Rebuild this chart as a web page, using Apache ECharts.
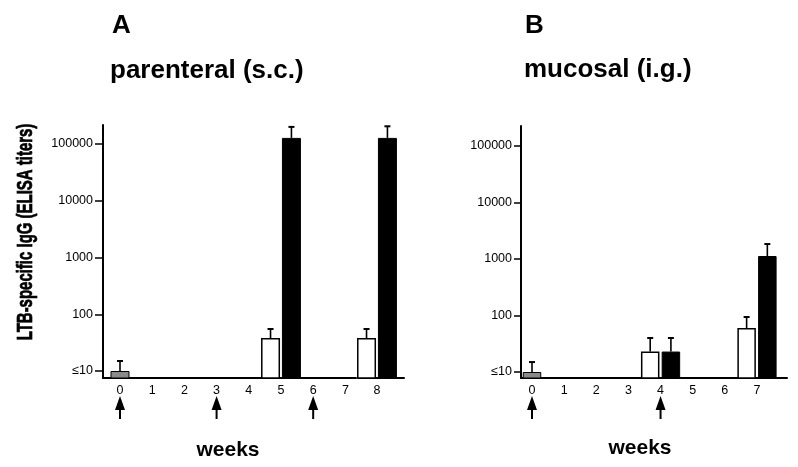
<!DOCTYPE html>
<html>
<head>
<meta charset="utf-8">
<script src="https://cdn.jsdelivr.net/npm/echarts@6/dist/echarts.min.js"></script>
<style>html,body{margin:0;padding:0;background:#fff}#c{width:798px;height:467px}</style>
</head>
<body>
<div id="c"></div>
<script>
// ---- data (titers; [week, mean titer, top of error bar]) ----
const weeksA = [0, 1, 2, 3, 4, 5, 6, 7, 8];
const weeksB = [0, 1, 2, 3, 4, 5, 6, 7];
const yTicks = [10, 100, 1000, 10000, 100000];
const preA = [[0, 10, 15]];
const whiteA = [[5, 38, 55], [8, 38, 55]];
const blackA = [[5, 128000, 200000], [8, 128000, 205000]];
const preB = [[0, 10, 15]];
const whiteB = [[4, 23, 40], [7, 60, 94]];
const blackB = [[4, 23, 40], [7, 1130, 1840]];
const boostA = [0, 3, 6];
const boostB = [0, 4];

const FONT = '"Liberation Sans", Arial, Helvetica, sans-serif';
const chart = echarts.init(document.getElementById('c'), null, {renderer: 'canvas'});

const yMinA = 7.53, yMaxA = 216000, yMinB = 7.83, yMaxB = 226000;
const bwA = 19, gapA = 0.1, bwB = 18.5, gapB = 0.12;
const offA = (bwA * (1 + gapA)) / 2, offB = (bwB * (1 + gapB)) / 2;

function yAxis(grid, min, max, show, tickLen) {
  return {
    type: 'log', logBase: 10, gridIndex: grid, min: min, max: max, show: show,
    axisLine: {show: true, onZero: false, lineStyle: {color: '#000', width: 2}},
    axisTick: {show: true, length: tickLen, customValues: yTicks, lineStyle: {color: '#000', width: 1.5}},
    axisLabel: {customValues: yTicks, margin: tickLen + 2, color: '#000', fontSize: 12.5, fontFamily: FONT,
      formatter: v => { const r = Math.round(v); return r === 10 ? '≤10' : String(r); }},
    splitLine: {show: false}
  };
}
function xAxis(grid, min, max, show, labels) {
  return {
    type: 'value', gridIndex: grid, min: min, max: max, show: show,
    axisLine: {show: true, onZero: false, lineStyle: {color: '#000', width: 2}},
    axisTick: {show: false},
    axisLabel: {customValues: labels, margin: 6, color: '#000', fontSize: 12.5, fontFamily: FONT},
    splitLine: {show: false}
  };
}
function bars(data, xi, yi, bw, gap, style) {
  return {type: 'bar', xAxisIndex: xi, yAxisIndex: yi, barWidth: bw, barGap: (gap * 100) + '%',
    data: data.map(d => [d[0], d[1]]), itemStyle: style, silent: true, clip: true, z: 2};
}
function errs(data, xi, yi, off) {
  return {
    type: 'custom', xAxisIndex: xi, yAxisIndex: yi, silent: true, z: 3, clip: false,
    data: data.map(d => [d[0], d[1], d[2]]), encode: {x: 0, y: [1, 2]},
    renderItem: (p, api) => {
      const b = api.coord([api.value(0), api.value(1)]);
      const t = api.coord([api.value(0), api.value(2)]);
      const x = b[0] + off;
      return {type: 'group', children: [
        {type: 'line', shape: {x1: x, y1: b[1], x2: x, y2: t[1]}, style: {stroke: '#000', lineWidth: 1.6}},
        {type: 'line', shape: {x1: x - 3, y1: t[1], x2: x + 3, y2: t[1]}, style: {stroke: '#000', lineWidth: 2}}
      ]};
    }
  };
}
function arrows(weeks, xi, yi, ymin) {
  return {
    type: 'custom', xAxisIndex: xi, yAxisIndex: yi, silent: true, clip: false, z: 5,
    data: weeks.map(w => [w, ymin]), encode: {x: 0, y: 1},
    renderItem: (p, api) => {
      const c = api.coord([api.value(0), api.value(1)]);
      const x = c[0], y = c[1];
      return {type: 'group', children: [
        {type: 'polygon', shape: {points: [[x, y + 18], [x - 5, y + 32], [x + 5, y + 32]]}, style: {fill: '#000'}},
        {type: 'line', shape: {x1: x, y1: y + 31, x2: x, y2: y + 41}, style: {stroke: '#000', lineWidth: 2}}
      ]};
    }
  };
}

const whiteStyle = {color: '#fff', borderColor: '#000', borderWidth: 1.5};
const blackStyle = {color: '#000', borderColor: '#000', borderWidth: 1};
const preStyle = {color: '#8a8a8a', borderColor: '#000', borderWidth: 1};

const inA1 = d => d[0] <= 7, inA2 = d => d[0] >= 8;
const titleStyle = {fontSize: 26, fontWeight: 'bold', fontFamily: FONT, color: '#000'};

const option = {
  animation: false,
  backgroundColor: '#fff',
  title: [
    {text: 'A', left: 112, top: 13, padding: 0, textStyle: titleStyle},
    {text: 'parenteral (s.c.)', left: 110, top: 58, padding: 0, textStyle: titleStyle},
    {text: 'B', left: 525, top: 13, padding: 0, textStyle: titleStyle},
    {text: 'mucosal (i.g.)', left: 524, top: 57, padding: 0, textStyle: titleStyle}
  ],
  grid: [
    {left: 103, top: 125, width: 253, height: 253, containLabel: false},
    {left: 358, top: 125, width: 46, height: 253, containLabel: false},
    {left: 521, top: 126, width: 266, height: 252, containLabel: false}
  ],
  xAxis: [
    xAxis(0, -0.528, 7.33, true, weeksA.filter(w => w <= 7)),
    xAxis(0, -0.528, 7.33, false, []),
    xAxis(1, 7.41, 8.84, true, weeksA.filter(w => w >= 8)),
    xAxis(2, -0.342, 7.934, true, weeksB),
    xAxis(2, -0.342, 7.934, false, [])
  ],
  yAxis: [
    yAxis(0, yMinA, yMaxA, true, 8),
    yAxis(1, yMinA, yMaxA, false, 8),
    yAxis(2, yMinB, yMaxB, true, 7)
  ],
  graphic: [
    {type: 'text', x: 26, y: 232, rotation: Math.PI / 2, scaleX: 0.68,
      style: {text: 'LTB-specific IgG (ELISA titers)', font: 'bold 22px ' + FONT, fill: '#000', stroke: '#000', lineWidth: 0.7, align: 'center', verticalAlign: 'middle'}},
    {type: 'text', x: 228, y: 450,
      style: {text: 'weeks', font: 'bold 21px ' + FONT, fill: '#000', align: 'center', verticalAlign: 'middle'}},
    {type: 'text', x: 640, y: 448,
      style: {text: 'weeks', font: 'bold 21px ' + FONT, fill: '#000', align: 'center', verticalAlign: 'middle'}}
  ],
  series: [
    // panel A, first segment
    bars(whiteA.filter(inA1), 0, 0, bwA, gapA, whiteStyle),
    bars(blackA.filter(inA1), 0, 0, bwA, gapA, blackStyle),
    bars(preA, 1, 0, bwA, gapA, preStyle),
    errs(whiteA.filter(inA1), 0, 0, -offA),
    errs(blackA.filter(inA1), 0, 0, offA),
    errs(preA, 1, 0, 0),
    arrows(boostA, 0, 0, yMinA),
    // panel A, second segment
    bars(whiteA.filter(inA2), 2, 1, bwA, gapA, whiteStyle),
    bars(blackA.filter(inA2), 2, 1, bwA, gapA, blackStyle),
    errs(whiteA.filter(inA2), 2, 1, -offA),
    errs(blackA.filter(inA2), 2, 1, offA),
    // panel B
    bars(whiteB, 3, 2, bwB, gapB, whiteStyle),
    bars(blackB, 3, 2, bwB, gapB, blackStyle),
    bars(preB, 4, 2, bwB, gapB, preStyle),
    errs(whiteB, 3, 2, -offB),
    errs(blackB, 3, 2, offB),
    errs(preB, 4, 2, 0),
    arrows(boostB, 3, 2, yMinB)
  ]
};
chart.setOption(option);
</script>
</body>
</html>
